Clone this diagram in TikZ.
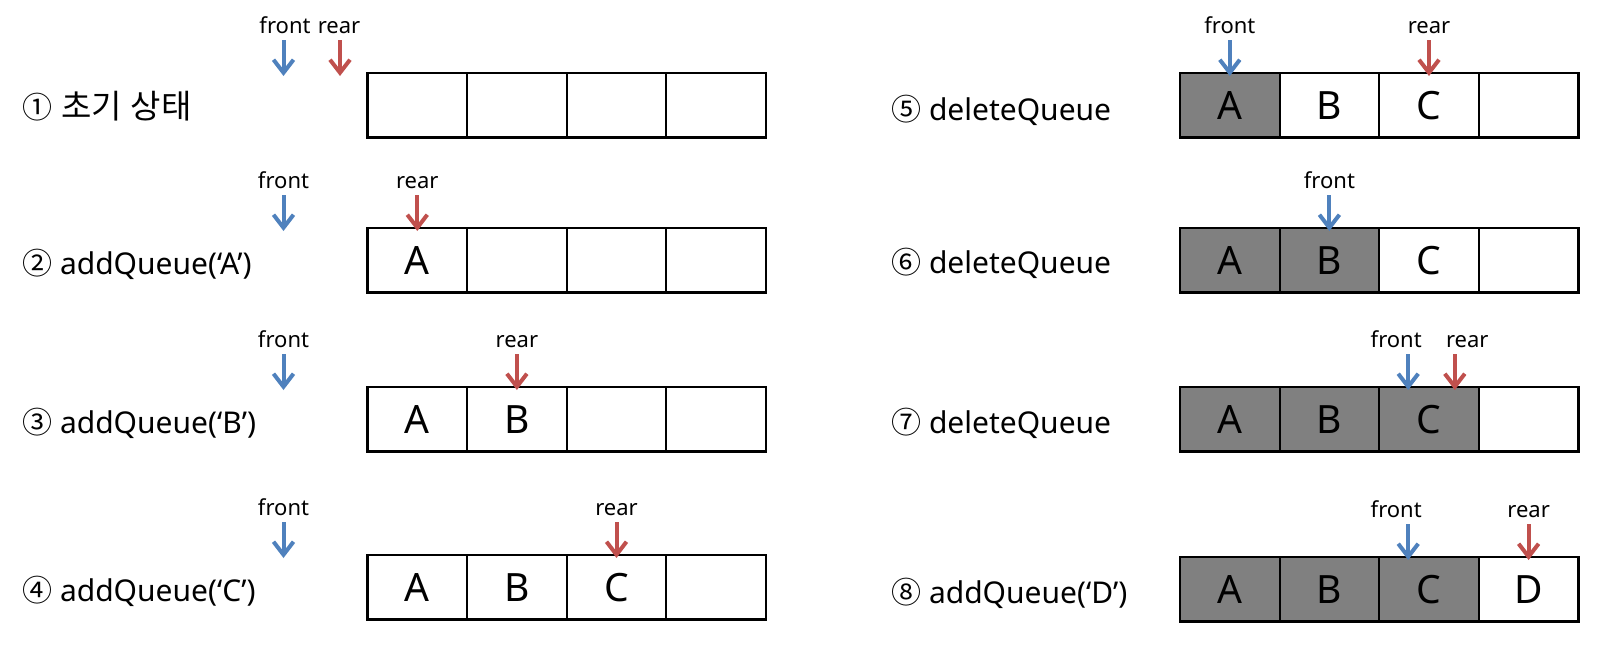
\documentclass[tikz,border=0pt]{standalone}
\usepackage{fontspec}
\setmainfont{Noto Sans}
\newfontfamily\krfont{Noto Sans CJK KR}
\usetikzlibrary{arrows.meta, matrix, positioning}

\definecolor{frontblue}{RGB}{79,129,189}
\definecolor{rearred}{RGB}{192,80,77}

\begin{document}
\begin{tikzpicture}[x=1pt, y=-1pt]
	\tikzset{
		cell/.style = {draw, line width=2.2pt, minimum width=99.6pt, minimum height=64.5pt, text height=28pt, text depth=0pt, inner sep=0pt, outer sep=0pt, font={\fontsize{39pt}{46pt}\selectfont}},
		deleted/.style = {fill=gray},
		queue/.style = {matrix of nodes, ampersand replacement=\&, nodes in empty cells, nodes={cell}, column sep=-2.2pt, inner sep=0pt, outer sep=0pt, anchor=north west},
		steplabel/.style = {font={\fontsize{30pt}{36pt}\selectfont}, anchor=base west, inner sep=0pt},
		ptrtext/.style = {font={\fontsize{22pt}{26pt}\selectfont}, inner sep=0pt},
		front arrow/.style = {draw=frontblue, line width=4pt, -{Straight Barb[length=13pt, width=20pt]}},
		rear arrow/.style = {front arrow, draw=rearred},
	}

	\useasboundingbox (0,0) rectangle (1601,653);

	% left column: adding
	\matrix[queue] (q1) at (366.4,71.9) { \& \& \& \\ };
	\matrix[queue] (q2) at (366.4,226.9) { A \& \& \& \\ };
	\matrix[queue] (q3) at (366.4,385.9) { A \& B \& \& \\ };
	\matrix[queue] (q4) at (366.4,553.9) { A \& B \& C \& \\ };

	% right column: deleting
	\matrix[queue] (q5) at (1178.9,71.9) { |[deleted]| A \& B \& C \& \\ };
	\matrix[queue] (q6) at (1178.9,226.9) { |[deleted]| A \& |[deleted]| B \& C \& \\ };
	\matrix[queue] (q7) at (1178.9,385.9) { |[deleted]| A \& |[deleted]| B \& |[deleted]| C \& \\ };
	\matrix[queue] (q8) at (1178.9,555.9) { |[deleted]| A \& |[deleted]| B \& |[deleted]| C \& D \\ };

	\node[steplabel] (s1) at (22,118) {{\krfont ①}\hspace{9pt}{\krfont\fontsize{33pt}{40pt}\selectfont 초기\hspace{9pt}상태}};
	\node[steplabel] (s2) at (22,274) {{\krfont ②} addQueue(‘A’)};
	\node[steplabel] (s3) at (22,433.5) {{\krfont ③} addQueue(‘B’)};
	\node[steplabel] (s4) at (22,601) {{\krfont ④} addQueue(‘C’)};
	\node[steplabel] (s5) at (891,120) {{\krfont ⑤} deleteQueue};
	\node[steplabel] (s6) at (891,273.5) {{\krfont ⑥} deleteQueue};
	\node[steplabel] (s7) at (891,433.5) {{\krfont ⑦} deleteQueue};
	\node[steplabel] (s8) at (891,603) {{\krfont ⑧} addQueue(‘D’)};

	% where the pointers end
	\coordinate (t1f) at ([xshift=-84pt, yshift=-3pt]q1-1-1.north west);
	\coordinate (t1r) at ([xshift=-27.5pt, yshift=-3pt]q1-1-1.north west);
	\coordinate (t2f) at ([xshift=-84pt, yshift=-3pt]q2-1-1.north west);
	\coordinate (t2r) at ([yshift=-3pt]q2-1-1.north);
	\coordinate (t3f) at ([xshift=-84pt, yshift=-3pt]q3-1-1.north west);
	\coordinate (t3r) at ([yshift=-3pt]q3-1-2.north);
	\coordinate (t4f) at ([xshift=-84pt, yshift=-3pt]q4-1-1.north west);
	\coordinate (t4r) at ([yshift=-3pt]q4-1-3.north);
	\coordinate (t5f) at ([yshift=-3pt]q5-1-1.north);
	\coordinate (t5r) at ([yshift=-3pt]q5-1-3.north);
	\coordinate (t6f) at ([yshift=-3pt]q6-1-2.north);
	\coordinate (t7f) at ([xshift=29pt, yshift=-3pt]q7-1-3.north west);
	\coordinate (t7r) at ([xshift=-24pt, yshift=-3pt]q7-1-3.north east);
	\coordinate (t8f) at ([xshift=29pt, yshift=-3pt]q8-1-3.north west);
	\coordinate (t8r) at ([yshift=-3pt]q8-1-4.north);

	\foreach \tip/\kind/\dx in {t1f/front/1.5, t1r/rear/-1, t2f/front/0, t2r/rear/0, t3f/front/0, t3r/rear/0, t4f/front/0, t4r/rear/0, t5f/front/0, t5r/rear/0, t6f/front/0, t7f/front/-12, t7r/rear/12.5, t8f/front/-12, t8r/rear/0}
		{
			\draw[\kind\space arrow] ([yshift=36pt]\tip) node[ptrtext, above=4pt, xshift=\dx pt] (\tip-lbl) {\kind} -- (\tip);
		}

\end{tikzpicture}
\end{document}
